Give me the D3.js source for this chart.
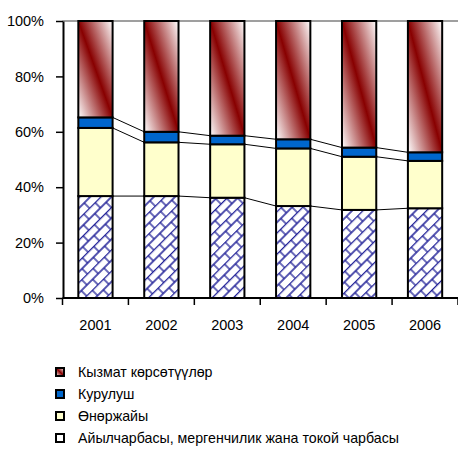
<!DOCTYPE html>
<html>
<head>
<meta charset="utf-8">
<script src="https://cdn.jsdelivr.net/npm/d3@7"></script>
<style>
  body { margin: 0; background: #fff; }
  svg { display: block; font-family: "Liberation Sans", Arial, sans-serif; }
</style>
</head>
<body>
<script>
// data (shares in %)
const years = ["2001", "2002", "2003", "2004", "2005", "2006"];
const agriculture = [36.8, 36.8, 36.2, 33.2, 31.8, 32.4];
const industry = [24.6, 19.4, 19.3, 20.8, 19.2, 17.1];
const construction = [3.8, 3.8, 3.1, 3.3, 3.3, 3.1];
const services = years.map((y, i) => +(100 - agriculture[i] - industry[i] - construction[i]).toFixed(1));
const yTicks = [0, 20, 40, 60, 80, 100];
const legendLabels = [
  "Кызмат көрсөтүүлөр",
  "Курулуш",
  "Өнөржайы",
  "Айылчарбасы, мергенчилик жана токой чарбасы"
];

function main(){
  const width = 458;
  const height = 450;

  const svg = d3.select("body").append("svg")
    .attr("width", width)
    .attr("height", height);

  const defs = svg.append("defs");

  // dark red diagonal gradient for services
  const grad = defs.append("linearGradient")
    .attr("id", "servGrad")
    .attr("x1", 1).attr("y1", 0).attr("x2", 0).attr("y2", 1);
  grad.append("stop").attr("offset", "0%").attr("stop-color", "#ffffff");
  grad.append("stop").attr("offset", "50%").attr("stop-color", "#880000");
  grad.append("stop").attr("offset", "100%").attr("stop-color", "#ffffff");

  // diagonal brick pattern for agriculture
  const brick = defs.append("pattern")
    .attr("id", "brick")
    .attr("patternUnits", "userSpaceOnUse")
    .attr("width", 16).attr("height", 15)
    .attr("patternTransform", "rotate(-45)");
  brick.append("rect").attr("width", 16).attr("height", 15).attr("fill", "#fff");
  brick.append("path")
    .attr("d", "M0,0.5H16M0,8H16M4,0.5V8M12,8V15.5")
    .attr("stroke", "#1e1e96")
    .attr("stroke-width", 1.3)
    .attr("fill", "none");

  const x = d3.scaleBand().domain(years).range([62.5, 458])
    .paddingInner(0.48).paddingOuter(0.24);
  const y = d3.scaleLinear().domain([0, 100]).range([298, 21]);

  const series = [
    { key: "agri", values: agriculture, fill: "url(#brick)" },
    { key: "ind", values: industry, fill: "#ffffcc" },
    { key: "cons", values: construction, fill: "#0066cc" },
    { key: "serv", values: services, fill: "url(#servGrad)" }
  ];

  // cumulative stacks
  const stacks = [];
  let base = years.map(() => 0);
  series.forEach(s => {
    const seg = years.map((yr, i) => ({ year: yr, y0: base[i], y1: base[i] + s.values[i] }));
    stacks.push({ s: s, seg: seg });
    base = seg.map(d => d.y1);
  });

  // gray top line at 100%
  svg.append("line")
    .attr("x1", 62.5).attr("x2", 458)
    .attr("y1", y(100)).attr("y2", y(100))
    .attr("stroke", "#7f7f7f").attr("stroke-width", 1.5);

  // series lines between bars
  stacks.slice(0, 3).forEach(st => {
    for (let i = 0; i < years.length - 1; i++) {
      svg.append("line")
        .attr("x1", x(years[i]) + x.bandwidth())
        .attr("x2", x(years[i + 1]))
        .attr("y1", y(st.seg[i].y1))
        .attr("y2", y(st.seg[i + 1].y1))
        .attr("stroke", "#000").attr("stroke-width", 1);
    }
  });

  // bars
  stacks.forEach(st => {
    svg.append("g").selectAll("rect")
      .data(st.seg)
      .enter().append("rect")
      .attr("x", d => x(d.year))
      .attr("width", x.bandwidth())
      .attr("y", d => y(d.y1))
      .attr("height", d => y(d.y0) - y(d.y1))
      .attr("fill", st.s.fill)
      .attr("stroke", "#000")
      .attr("stroke-width", 2);
  });

  // y axis
  const yAxis = svg.append("g")
    .attr("transform", "translate(63,0)")
    .call(d3.axisLeft(y).tickValues(yTicks).tickFormat(d => d + "%").tickSize(7).tickSizeOuter(0).tickPadding(12));
  yAxis.select(".domain").attr("stroke-width", 2);
  yAxis.selectAll(".tick line").attr("stroke-width", 1.5);
  yAxis.selectAll("text").attr("font-size", "14.5px").attr("fill", "#000")
    .attr("font-family", "Liberation Sans, Arial, sans-serif");

  // x axis
  const xAxis = svg.append("g")
    .attr("transform", "translate(0,298)")
    .call(d3.axisBottom(x).tickSize(0).tickSizeOuter(0).tickPadding(22));
  xAxis.select(".domain").attr("stroke-width", 2).attr("d", "M62.5,0H458");
  xAxis.selectAll("text").attr("font-size", "14.5px").attr("fill", "#000")
    .attr("font-family", "Liberation Sans, Arial, sans-serif");
  // boundary ticks between categories
  const edges = d3.range(years.length + 1).map(i => 62.5 + i * (458 - 62.5) / years.length);
  xAxis.selectAll(".btick")
    .data(edges)
    .enter().append("line")
    .attr("class", "btick")
    .attr("x1", d => d).attr("x2", d => d)
    .attr("y1", 0).attr("y2", 7)
    .attr("stroke", "#000").attr("stroke-width", 1.5);

  // legend
  const legendFills = ["url(#servGrad)", "#0066cc", "#ffffcc", "#ffffff"];
  const legend = svg.append("g").attr("transform", "translate(56,372)");
  legendLabels.forEach((lab, i) => {
    const row = legend.append("g").attr("transform", "translate(0," + (i * 22) + ")");
    row.append("rect")
      .attr("x", 0).attr("y", -4)
      .attr("width", 8).attr("height", 8)
      .attr("fill", legendFills[i])
      .attr("stroke", "#000").attr("stroke-width", 2);
    row.append("text")
      .attr("x", 22).attr("y", 5)
      .attr("font-size", "14.2px")
      .attr("fill", "#000")
      .text(lab);
  });
}
main();
</script>
</body>
</html>
